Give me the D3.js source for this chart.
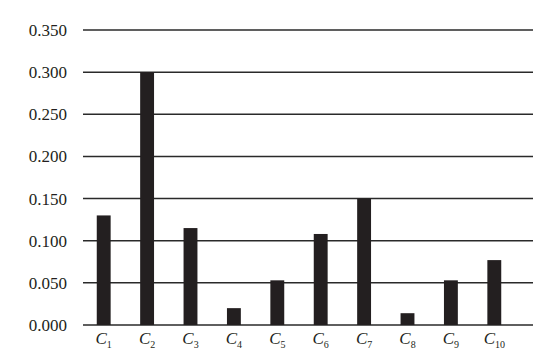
<!DOCTYPE html>
<html>
<head>
<meta charset="utf-8">
<script src="https://d3js.org/d3.v7.min.js"></script>
<style>
	html, body { margin: 0; padding: 0; background: #fff; }
	svg { display: block; }
</style>
</head>
<body>
<div id="chart"></div>
<script>
// データ
const categories = ['1', '2', '3', '4', '5', '6', '7', '8', '9', '10'];
const values = [0.130, 0.300, 0.115, 0.020, 0.053, 0.108, 0.150, 0.014, 0.053, 0.077];
const yTicks = [0, 0.05, 0.10, 0.15, 0.20, 0.25, 0.30, 0.35];

const width = 546, height = 358;
const gridLeft = 83, gridRight = 533;
const plotTop = 30, plotBottom = 325;

const svg = d3.select('#chart')
	.append('svg')
	.attr('width', width)
	.attr('height', height);

const y = d3.scaleLinear()
	.domain([0, 0.35])
	.range([plotBottom, plotTop]);

const x = d3.scaleBand()
	.domain(categories)
	.range([82, 516])
	.paddingInner(0.68)
	.paddingOuter(0.34);

// 目盛り線
svg.append('g')
	.selectAll('line')
	.data(yTicks)
	.join('line')
	.attr('x1', gridLeft)
	.attr('x2', gridRight)
	.attr('y1', d => y(d))
	.attr('y2', d => y(d))
	.style('stroke', '#2a2a2a')
	.style('stroke-width', 1.5);

// Y軸ラベル
svg.append('g')
	.selectAll('text')
	.data(yTicks)
	.join('text')
	.attr('x', 67)
	.attr('y', d => y(d))
	.attr('dy', '0.35em')
	.attr('text-anchor', 'end')
	.style('font-family', '"Liberation Serif", "Times New Roman", serif')
	.style('font-size', '17px')
	.style('fill', '#231f20')
	.text(d => d3.format('.3f')(d));

// 棒
svg.append('g')
	.selectAll('rect')
	.data(values)
	.join('rect')
	.attr('x', (d, i) => x(categories[i]))
	.attr('width', x.bandwidth())
	.attr('y', d => y(d))
	.attr('height', d => y(0) - y(d))
	.style('fill', '#231f20');

// X軸ラベル (C + 下付き数字)
const xl = svg.append('g')
	.selectAll('text')
	.data(categories)
	.join('text')
	.attr('x', d => x(d) + x.bandwidth() / 2)
	.attr('y', 344)
	.attr('text-anchor', 'middle')
	.style('font-family', '"Liberation Serif", "Times New Roman", serif')
	.style('font-size', '17px')
	.style('fill', '#231f20');

xl.append('tspan')
	.style('font-style', 'italic')
	.text('C');
xl.append('tspan')
	.attr('dy', 4)
	.style('font-size', '10px')
	.text(d => d);
</script>
</body>
</html>
